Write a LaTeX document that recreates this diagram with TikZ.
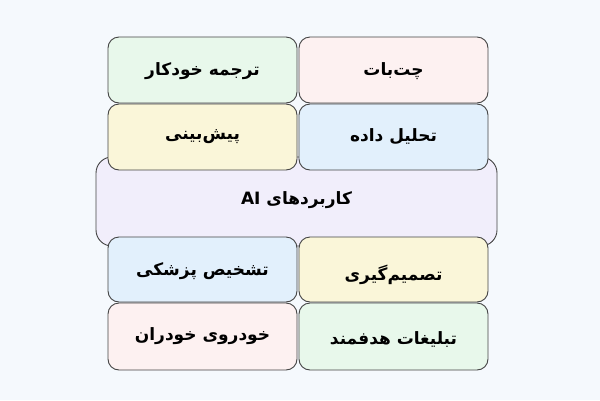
\documentclass[tikz,border=0pt]{standalone}
\usepackage{fontspec}
\TeXXeTstate=1
\newfontfamily\arabicfont[Script=Arabic]{DejaVu Sans}
\definecolor{bgc}{HTML}{F5F9FD}
\definecolor{cgreen}{HTML}{E8F8EB}
\definecolor{cpink}{HTML}{FDF1F1}
\definecolor{cyellow}{HTML}{FAF6D9}
\definecolor{cblue}{HTML}{E2F0FC}
\definecolor{clav}{HTML}{F1EEFB}
\definecolor{edge}{HTML}{444444}
\tikzset{
  card/.style={draw=edge, line width=0.9pt, rounded corners=11pt},
  lbl/.style={font=\arabicfont\bfseries\fontsize{17}{19}\selectfont, text=black, inner sep=0pt},
}
\begin{document}
\begin{tikzpicture}[x=1pt,y=-1pt]
\useasboundingbox (0,0) rectangle (600,400);
\fill[bgc] (0,0) rectangle (600,400);
% central box
\draw[card, fill=clav, rounded corners=16pt] (96,157) rectangle (497,246);
\node[lbl] (center) at (296.5,200) {\beginR کاربردهای \beginL AI\endL\endR};
% row 1
\draw[card, fill=cgreen] (108,37) rectangle (297,103);
\node[lbl] (r1l) at (202.5,71) {\beginR ترجمه خودکار\endR};
\draw[card, fill=cpink] (299,37) rectangle (488,103);
\node[lbl] (r1r) at (393.5,71) {\beginR چت‌بات\endR};
% row 2
\draw[card, fill=cyellow] (108,104) rectangle (297,170);
\node[lbl] (r2l) at (202.5,137) {\beginR پیش‌بینی\endR};
\draw[card, fill=cblue] (299,104) rectangle (488,170);
\node[lbl] (r2r) at (393.5,137) {\beginR تحلیل داده\endR};
% row 3
\draw[card, fill=cblue] (108,237) rectangle (297,302);
\node[lbl] (r3l) at (202.5,271) {\beginR تشخیص پزشکی\endR};
\draw[card, fill=cyellow] (299,237) rectangle (488,302);
\node[lbl] (r3r) at (393.5,275) {\beginR تصمیم‌گیری\endR};
% row 4
\draw[card, fill=cpink] (108,303) rectangle (297,370);
\node[lbl] (r4l) at (202.5,336) {\beginR خودروی خودران\endR};
\draw[card, fill=cgreen] (299,303) rectangle (488,370);
\node[lbl] (r4r) at (393.5,340) {\beginR تبلیغات هدفمند\endR};
\end{tikzpicture}
\end{document}
